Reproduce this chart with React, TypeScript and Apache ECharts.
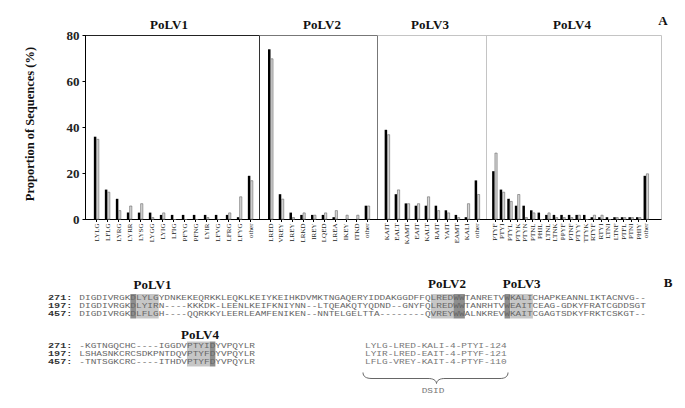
import React, { useEffect, useRef } from "react";
import * as echarts from "echarts";

// ---------------- Panel A data ----------------
const v1Cats = ["LYLG", "LFLG", "LYRG", "LYRR", "LYSG", "LYGG", "LYIG", "LFIG", "PFYG", "PFNG", "LYIR", "LFVG", "LFRG", "LFYG", "other"];
const v1Black = [36, 13, 9, 3, 3, 3, 2, 2, 2, 2, 2, 2, 2, 1, 19];
const v1Gray = [35, 12, 4, 6, 7, 1, 3, 0, 0, 0, 1, 0, 3, 10, 17];

const v2Cats = ["LRED", "VREY", "LREY", "LRKD", "IREY", "LQED", "LREA", "IKEY", "ITKD", "other"];
const v2Black = [74, 11, 3, 2, 2, 2, 1, 0, 0, 6];
const v2Gray = [70, 9, 1, 3, 2, 3, 4, 2, 2, 6];

const v3Cats = ["KAIT", "EALT", "KAMT", "EAIT", "KALT", "RAIT", "YAIT", "EAMT", "KALI", "other"];
const v3Black = [39, 11, 7, 6, 6, 6, 4, 2, 1, 17];
const v3Gray = [37, 13, 7, 7, 10, 4, 3, 1, 7, 11];

const v4Cats = ["PTYF", "PTYI", "PTYL", "PTYK", "PTYN", "PTNL", "PHIL", "LTNL", "LTNK", "PPYF", "PTNF", "PTYY", "TTYK", "RTYF", "RTYI", "LTNI", "LTNF", "PTFL", "PTNI", "PHIY", "other"];
const v4Black = [21, 13, 9, 6, 6, 4, 3, 2, 2, 2, 2, 2, 2, 1, 1, 1, 1, 1, 1, 1, 19];
const v4Gray = [29, 12, 8, 11, 1, 3, 0, 3, 1, 1, 1, 2, 0, 2, 2, 0, 1, 1, 1, 1, 20];

const groupTitles = ["PoLV1", "PoLV2", "PoLV3", "PoLV4"];
const yTicks = [0, 20, 40, 60, 80];
const yName = "Proportion of Sequences (%)";

// ---------------- Panel B data ----------------
const seqIds = ["271:", "197:", "457:"];
const seqTop = [
  "DIGDIVRGKDLYLGYDNKEKEQRKKLEQKLKEIYKEIHKDVMKTNGAQERYIDDAKGGDFFQLREDWWTANRETVWKALICHAPKEANNLIKTACNVG--",
  "DIGDIVRGKDLYIRN----KKKDK-LEENLKEIFKNIYNN--LTQEAKQTYQDND--GNYFQLREDWWTANRHTVWEAITCEAG-GDKYFRATCGDDSGT",
  "DIGDIVRGKDLFLGH----QQRKKYLEERLEAMFENIKEN--NNTELGELTTA--------QVREYWWALNKREVWKAITCGAGTSDKYFRKTCSKGT--",
];
const seqBottom = [
  "-KGTNGQCHC----IGGDVPTYIDYVPQYLR",
  "LSHASNKCRCSDKPNTDQVPTYFDYVPQYLR",
  "-TNTSGKCRC----ITHDVPTYFDYVPQYLR",
];
const dsidRows = [
  "LYLG-LRED-KALI-4-PTYI-124",
  "LYIR-LRED-EAIT-4-PTYF-121",
  "LFLG-VREY-KAIT-4-PTYF-110",
];
const dsidLabel = "DSID";
// highlight spans: [block, startCol(1-based), length, dark?]
const highlights: [number, number, number, boolean][] = [
  [0, 10, 1, true],
  [0, 11, 4, false],
  [0, 63, 4, false],
  [0, 67, 2, true],
  [0, 76, 1, true],
  [0, 77, 4, false],
  [1, 20, 4, false],
  [1, 24, 1, true],
];

// ---------------- layout ----------------
const Y_TOP = 35.5;
const Y_BOT = 219.5;
const GRID_LEFTS = [91, 265.3, 382.3, 491];
const GRID_WIDTHS = [165, 107.4, 100, 159];
const AXIS_X = 85.5;
const SEP_X = [259.5, 377.5, 486.5, 661.5];
const TITLE_X = [169, 322, 430, 572];

const CW = 5.67; // character advance in panel B
const MONO_SIZE = 7.8;
const MONO_SCALE = CW / (MONO_SIZE * 0.6);
const ID_SIZE = 7.8;
const ID_SCALE = 1.3;
const SEQ_X = 79.3;
const BLOCK_ROWS = [
  [298, 306, 314],
  [346, 354, 362],
];
const BLOCK_BOX = [
  [294, 318.5],
  [341.5, 366.5],
];

const SERIF = "'Liberation Serif', 'Times New Roman', serif";
const MONO = "'Liberation Mono', 'Courier New', monospace";

const BRACE_D =
  "M363,372.5 C363,376.5 366,378.5 372,378.5 L428,378.5 C433,378.5 436,380 436.5,383.5 C437,380 440,378.5 445,378.5 L500,378.5 C505,378.5 508,376.5 508,372.5";

let braceRegistered = false;

function textEl(
  text: string,
  x: number,
  y: number,
  font: string,
  fill: string,
  align = "center",
  rotation = 0,
  scaleX = 1
) {
  const style: any = {
    text,
    x: 0,
    y: 0,
    font,
    fill,
    align,
    verticalAlign: "middle",
    textAlign: align,
    textVerticalAlign: "middle",
  };
  return { type: "text", x, y, rotation, scaleX, scaleY: 1, silent: true, style };
}

function lineEl(x1: number, y1: number, x2: number, y2: number, stroke: string) {
  return {
    type: "line",
    silent: true,
    shape: { x1, y1, x2, y2 },
    style: { stroke, lineWidth: 1 },
  };
}

export default function App() {
  const ref = useRef<HTMLDivElement>(null);

  useEffect(() => {
    if (!ref.current) return;
    if (!braceRegistered) {
      echarts.graphic.registerShape("brace", echarts.graphic.extendPath(BRACE_D, {}));
      braceRegistered = true;
    }
    const chart = echarts.init(ref.current, null, { renderer: "svg" });

    const cats = [v1Cats, v2Cats, v3Cats, v4Cats];
    const blacks = [v1Black, v2Black, v3Black, v4Black];
    const grays = [v1Gray, v2Gray, v3Gray, v4Gray];

    const grid = GRID_LEFTS.map((l, i) => ({
      left: l,
      width: GRID_WIDTHS[i],
      top: Y_TOP,
      height: Y_BOT - Y_TOP,
      containLabel: false,
    }));

    const xAxis = cats.map((c, i) => ({
      type: "category",
      gridIndex: i,
      data: c,
      axisLine: { show: false },
      axisTick: { show: true, alignWithLabel: true, length: 2.5, lineStyle: { color: "#000", width: 1 } },
      axisLabel: {
        interval: 0,
        rotate: 90,
        margin: 4,
        fontSize: 7,
        fontFamily: SERIF,
        color: "#222",
      },
      splitLine: { show: false },
    }));

    const yAxis = cats.map((_, i) => ({
      type: "value",
      gridIndex: i,
      min: yTicks[0],
      max: yTicks[yTicks.length - 1],
      interval: yTicks[1] - yTicks[0],
      show: i === 0,
      offset: i === 0 ? GRID_LEFTS[0] - AXIS_X : 0,
      axisLine: { show: true, lineStyle: { color: "#000", width: 1 } },
      axisTick: { show: true, length: 3, lineStyle: { color: "#000" } },
      axisLabel: {
        margin: 6,
        fontSize: 13,
        fontWeight: "bold",
        fontFamily: SERIF,
        color: "#222",
      },
      splitLine: { show: false },
    }));

    const series: any[] = [];
    cats.forEach((_, i) => {
      series.push({
        type: "bar",
        xAxisIndex: i,
        yAxisIndex: i,
        data: blacks[i],
        barWidth: 2.5,
        barGap: "0%",
        itemStyle: { color: "#000" },
      });
      series.push({
        type: "bar",
        xAxisIndex: i,
        yAxisIndex: i,
        data: grays[i],
        barWidth: 2.8,
        barGap: "0%",
        itemStyle: { color: "#d6d6d6", borderColor: "#666", borderWidth: 0.6 },
      });
    });

    const g: any[] = [];
    // Panel A frame
    g.push(lineEl(AXIS_X, Y_TOP, SEP_X[0], Y_TOP, "#222"));
    g.push(lineEl(SEP_X[0], Y_TOP, SEP_X[1], Y_TOP, "#777"));
    g.push(lineEl(SEP_X[1], Y_TOP, SEP_X[3], Y_TOP, "#c4c4c4"));
    g.push(lineEl(SEP_X[0], Y_TOP, SEP_X[0], Y_BOT, "#333"));
    g.push(lineEl(SEP_X[1], Y_TOP, SEP_X[1], Y_BOT, "#777"));
    g.push(lineEl(SEP_X[2], Y_TOP, SEP_X[2], Y_BOT, "#c4c4c4"));
    g.push(lineEl(SEP_X[3], Y_TOP, SEP_X[3], Y_BOT, "#c4c4c4"));
    g.push(lineEl(AXIS_X, Y_BOT, SEP_X[3], Y_BOT, "#000"));
    groupTitles.forEach((t, i) => g.push(textEl(t, TITLE_X[i], 24, `bold 13px ${SERIF}`, "#111")));
    g.push(textEl("A", 663, 20, `bold 13px ${SERIF}`, "#111"));
    g.push(textEl(yName, 30, 124, `bold 12.5px ${SERIF}`, "#111", "center", Math.PI / 2));

    // Panel B highlights
    highlights.forEach(([b, col, len, dark]) => {
      g.push({
        type: "rect",
        silent: true,
        shape: {
          x: SEQ_X + (col - 1) * CW,
          y: BLOCK_BOX[b][0],
          width: len * CW,
          height: BLOCK_BOX[b][1] - BLOCK_BOX[b][0],
        },
        style: { fill: dark ? "#8e8e8e" : "#c6c6c6" },
      });
    });
    // Panel B texts
    const monoFont = `${MONO_SIZE}px ${MONO}`;
    const idFont = `bold ${ID_SIZE}px ${MONO}`;
    [seqTop, seqBottom].forEach((rows, b) => {
      rows.forEach((s, r) => {
        g.push(textEl(seqIds[r], 48, BLOCK_ROWS[b][r], idFont, "#333", "left", 0, ID_SCALE));
        g.push(textEl(s, SEQ_X, BLOCK_ROWS[b][r], monoFont, "#666", "left", 0, MONO_SCALE));
      });
    });
    g.push(textEl("PoLV1", 152.5, 284, `bold 13px ${SERIF}`, "#111"));
    g.push(textEl("PoLV2", 447, 283, `bold 13px ${SERIF}`, "#111"));
    g.push(textEl("PoLV3", 521.7, 283, `bold 13px ${SERIF}`, "#111"));
    g.push(textEl("PoLV4", 200, 334, `bold 13px ${SERIF}`, "#111"));
    g.push(textEl("B", 668, 282, `bold 13px ${SERIF}`, "#111"));
    dsidRows.forEach((s, r) =>
      g.push(textEl(s, 365, BLOCK_ROWS[1][r], monoFont, "#777", "left", 0, MONO_SCALE))
    );
    g.push({
      type: "brace",
      x: 0,
      y: 0,
      scaleX: 1,
      scaleY: 1,
      silent: true,
      style: { stroke: "#666", fill: "none", lineWidth: 1 },
    });
    g.push(textEl(dsidLabel, 433, 391.5, monoFont, "#777", "center", 0, MONO_SCALE));

    chart.setOption({
      animation: false,
      backgroundColor: "#fff",
      grid,
      xAxis,
      yAxis,
      series,
      graphic: { elements: g },
    });

    return () => chart.dispose();
  }, []);

  return (
    <div
      ref={ref}
      style={{ position: "absolute", left: 0, top: 0, width: 685, height: 408, background: "#fff" }}
    />
  );
}
